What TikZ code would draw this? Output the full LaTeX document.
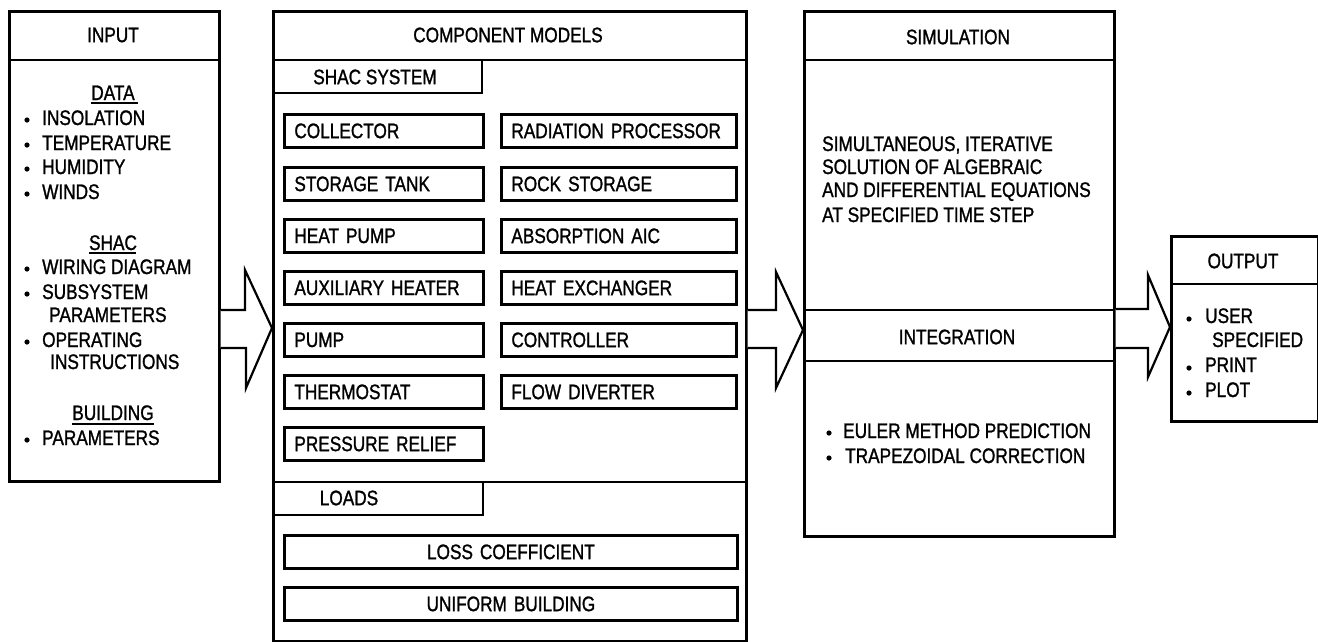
\documentclass[tikz,border=0pt]{standalone}
\usepackage{fontspec}
\setmainfont{Liberation Sans}[FakeStretch=0.82,FakeBold=1.2]
\newcommand\lbl{\fontsize{21}{24}\selectfont}
\tikzset{
  frame/.style={draw, line width=2.6pt, inner sep=0pt, anchor=north west},
  cbox/.style={draw, line width=2.8pt, inner xsep=10pt, inner ysep=0pt, anchor=north west, minimum height=33, align=left, font=\lbl},
  tl/.style={inner sep=0pt, anchor=base west, font=\lbl},
  tc/.style={inner sep=0pt, anchor=base, font=\lbl},
  hd/.style={inner sep=0pt, anchor=center, font=\lbl},
  sep/.style={line width=2.6pt},
  uline/.style={line width=1.6pt},
  bigarrow/.style={draw, line width=2.2pt, line join=miter, fill=white},
  bul/.style={fill=black},
}
\begin{document}
\begin{tikzpicture}[x=1pt,y=-1pt]
\useasboundingbox (0,0) rectangle (1318,641);

% ---------- INPUT ----------
\node[frame, minimum width=210, minimum height=470] (inp) at (8,10) {};
\draw[sep] (8,60) -- (218,60);
\node[hd] (inph) at (113,35) {INPUT};
\node[tc] (data) at (113,100) {DATA};
\draw[uline] (data.base west) ++(0,3) -- ++(47,0);
\foreach \yy/\txt in {125/INSOLATION,150/TEMPERATURE,174/HUMIDITY,199/WINDS}{
  \fill[bul] (27,\yy-5) circle[radius=2.6pt];
  \node[tl] at (42,\yy) {\txt};
}
\node[tc] (shac) at (113,250) {SHAC};
\draw[uline] (shac.base west) ++(0,3) -- ++(47,0);
\fill[bul] (27,269) circle[radius=2.6pt];
\node[tl] at (42,274) {WIRING DIAGRAM};
\fill[bul] (27,294) circle[radius=2.6pt];
\node[tl] at (42,299) {SUBSYSTEM};
\node[tl] at (49,322) {PARAMETERS};
\fill[bul] (27,342) circle[radius=2.6pt];
\node[tl] at (42,347) {OPERATING};
\node[tl] at (50,369) {INSTRUCTIONS};
\node[tc] (bldg) at (113,420) {BUILDING};
\draw[uline] (bldg.base west) ++(0,4) -- (bldg.base east |- 0,424);
\fill[bul] (27,440) circle[radius=2.6pt];
\node[tl] at (42,445) {PARAMETERS};

% ---------- COMPONENT MODELS ----------
\node[frame, minimum width=473, minimum height=630] (comp) at (272,10) {};
\draw[sep] (272,60) -- (745,60);
\node[hd] (comph) at (508,35) {COMPONENT MODELS};
\draw[sep] (272,93) -- (482,93) -- (482,60);
\node[hd] (shacsys) at (375,77) {SHAC SYSTEM};

\node[cbox, text width=179] (c1) at (283,113) {COLLECTOR};
\node[cbox, text width=179] (c2) at (283,166) {STORAGE TANK};
\node[cbox, text width=179] (c3) at (283,218) {HEAT PUMP};
\node[cbox, text width=179] (c4) at (283,270) {AUXILIARY HEATER};
\node[cbox, text width=179] (c5) at (283,322) {PUMP};
\node[cbox, text width=179] (c6) at (283,374) {THERMOSTAT};
\node[cbox, text width=179] (c7) at (283,426) {PRESSURE RELIEF};

\node[cbox, text width=215] (r1) at (500,113) {RADIATION PROCESSOR};
\node[cbox, text width=215] (r2) at (500,166) {ROCK STORAGE};
\node[cbox, text width=215] (r3) at (500,218) {ABSORPTION AIC};
\node[cbox, text width=215] (r4) at (500,270) {HEAT EXCHANGER};
\node[cbox, text width=215] (r5) at (500,322) {CONTROLLER};
\node[cbox, text width=215] (r6) at (500,374) {FLOW DIVERTER};

\draw[sep] (272,482) -- (745,482);
\draw[sep] (272,515) -- (483,515) -- (483,482);
\node[hd] (loads) at (349,498) {LOADS};
\node[cbox, text width=433, align=center] (loss) at (283,534) {LOSS COEFFICIENT};
\node[cbox, text width=433, align=center] (unif) at (283,586) {UNIFORM BUILDING};

% ---------- SIMULATION ----------
\node[frame, minimum width=310, minimum height=525] (sim) at (803,10) {};
\draw[sep] (803,60) -- (1113,60);
\node[hd] (simh) at (958,37) {SIMULATION};
\node[tl] at (822,151) {SIMULTANEOUS, ITERATIVE};
\node[tl] at (822,174) {SOLUTION OF ALGEBRAIC};
\node[tl] at (822,197) {AND DIFFERENTIAL EQUATIONS};
\node[tl] at (822,222) {AT SPECIFIED TIME STEP};
\draw[sep] (803,310) -- (1113,310);
\draw[sep] (803,361) -- (1113,361);
\node[hd] (integ) at (957,337) {INTEGRATION};
\fill[bul] (829,433) circle[radius=2.6pt];
\node[tl] at (843,438) {EULER METHOD PREDICTION};
\fill[bul] (829,458) circle[radius=2.6pt];
\node[tl] at (845,463) {TRAPEZOIDAL CORRECTION};

% ---------- OUTPUT ----------
\node[frame, minimum width=147, minimum height=185] (out) at (1170,235) {};
\draw[sep] (1170,284) -- (1317,284);
\node[hd] (outh) at (1243,261) {OUTPUT};
\fill[bul] (1189,319) circle[radius=2.6pt];
\node[tl] at (1205,323) {USER};
\node[tl] at (1212,347) {SPECIFIED};
\fill[bul] (1189,368) circle[radius=2.6pt];
\node[tl] at (1205,372) {PRINT};
\fill[bul] (1189,393) circle[radius=2.6pt];
\node[tl] at (1205,397) {PLOT};

% ---------- BLOCK ARROWS ----------
\draw[bigarrow] (inp.east |- 0,310) -- (245,310) -- (245,270) -- (comp.west |- 0,328)
  -- (246,388) -- (246,348) -- (inp.east |- 0,348);
\draw[bigarrow] (comp.east |- 0,310) -- (776,310) -- (776,272) -- (sim.west |- 0,330)
  -- (776,388) -- (776,348) -- (comp.east |- 0,348);
\draw[bigarrow] (sim.east |- 0,309) -- (1148,309) -- (1148,275) -- (out.west |- 0,327)
  -- (1148,377) -- (1148,348) -- (sim.east |- 0,348);
\end{tikzpicture}
\end{document}
